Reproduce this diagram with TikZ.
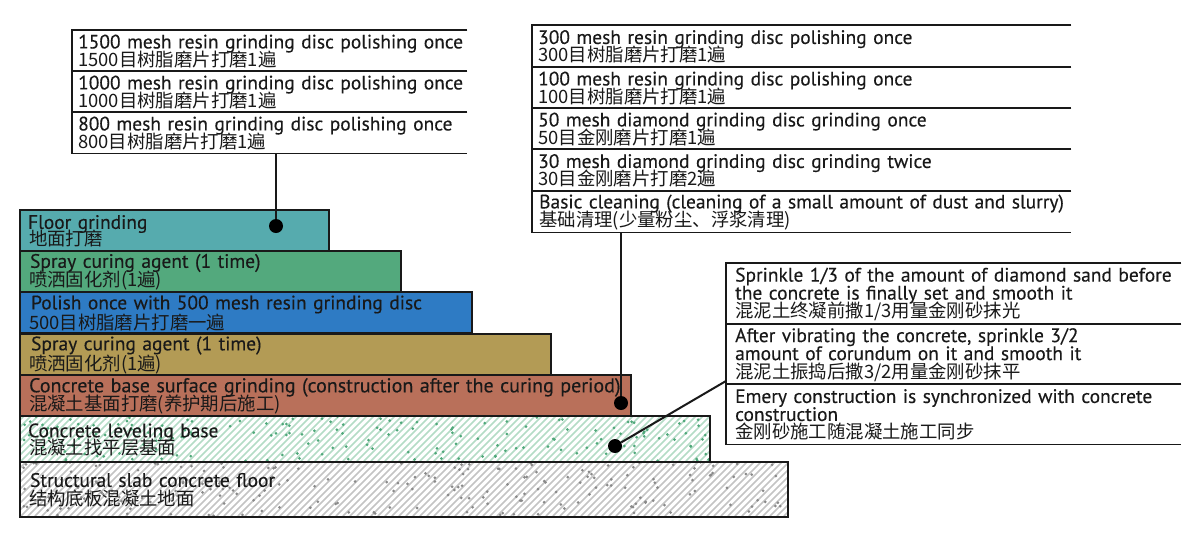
\documentclass[tikz,border=0pt]{standalone}
\usepackage{fontspec}
\setmainfont[FakeBold=0.25,AutoFakeBold=0.25]{PT Sans}
\newfontfamily\cjk{Noto Sans CJK SC}
\newcommand{\zh}[1]{\mbox{\fontsize{18.4}{16}\selectfont\cjk #1}}
\newcommand{\en}[1]{\mbox{#1}}
\newcommand{\wider}{\fontsize{20}{16}\selectfont}
\definecolor{cTeal}{HTML}{56ABAE}
\definecolor{cGreen}{HTML}{53A97D}
\definecolor{cBlue}{HTML}{2E7BC4}
\definecolor{cTan}{HTML}{B39B55}
\definecolor{cBrown}{HTML}{B9705A}
\definecolor{hGreen}{HTML}{B4DCC6}
\definecolor{dGreen}{HTML}{4FA87A}
\definecolor{hGray}{HTML}{C4C4C4}
\definecolor{dGray}{HTML}{8A8A8A}
\tikzset{
  x=1pt,y=-1pt,
  txt/.style={anchor=north west,inner ysep=0pt,align=left,text height=15pt,
    font=\fontsize{19.45}{18}\selectfont,text=black!90,
    execute at begin node={\lineskiplimit=-100pt}},
  row/.style={txt,inner xsep=6pt},
  layer/.style={txt,draw=black!90,line width=2.2pt,inner xsep=9pt},
  opbox/.style={draw=black!90,line width=1.5pt},
  lead/.style={draw=black!90,line width=2pt},
  dot/.style={circle,fill=black,inner sep=0pt,minimum size=14pt}
}
\newcommand{\rowbox}[7][6]{% xsep,name,x,y,w,h,text
  \node[row,inner xsep=#1pt,minimum height=#6,text width=#5-2*#1] (#2) at (#3,#4) {#7};
}
\newcommand{\layerbox}[7]{% name,x,y,w,h,fill,text
  \node[layer,fill=#6,minimum height=#5,text width=#4-18] (#1) at (#2,#3) {#7};
}
\newcommand{\openbox}[1]{\draw[opbox] (#1.north east) -- (#1.north west) -- (#1.south west) -- (#1.south east);}
\begin{document}
\begin{tikzpicture}
\useasboundingbox (0,0) rectangle (1200,550);
\fill[white] (0,0) rectangle (1200,550);
% hatching
\pgfmathsetseed{42}
\begin{scope}
  \clip (19,415) rectangle (709,461);
  \foreach \i in {-10,...,110} \draw[hGreen,line width=1.6pt] ({\i*7},461) -- ++(50,-50);
  \foreach \i in {1,...,170} {
    \pgfmathsetmacro{\px}{19+690*rnd}\pgfmathsetmacro{\py}{415+46*rnd}
    \fill[dGreen] (\px,\py) circle (1.5);
  }
\end{scope}
\begin{scope}
  \clip (19,461) rectangle (787,516);
  \foreach \i in {-10,...,125} \draw[hGray,line width=1.6pt] ({\i*7},516) -- ++(60,-60);
  \foreach \i in {1,...,210} {
    \pgfmathsetmacro{\px}{19+768*rnd}\pgfmathsetmacro{\py}{461+55*rnd}
    \fill[dGray] (\px,\py) circle (1.5);
  }
\end{scope}
% layers
\layerbox{l1}{19}{209}{309}{41}{cTeal}{\kern-1pt\en{Floor grinding}\\\kern-1pt\zh{地面打磨}}
\layerbox{l2}{19}{250}{381}{41}{cGreen}{\kern1pt\en{Spray curing agent (1 time)}\\\kern1pt\zh{喷洒固化剂(1遍)}}
\layerbox{l3}{19}{291}{452}{41}{cBlue}{\kern2pt\en{Polish once with 500 mesh resin grinding disc}\\\kern2pt\zh{500目树脂磨片打磨一遍}}
\layerbox{l4}{19}{333}{531}{41}{cTan}{\kern2pt\en{Spray curing agent (1 time)}\\\kern2pt\zh{喷洒固化剂(1遍)}}
\layerbox{l5}{19}{374}{611}{41}{cBrown}{\en{\wider Concrete base surface grinding (construction after the curing period)}\\\zh{混凝土基面打磨(养护期后施工)}}
\layerbox{l6}{19}{415}{690}{46}{none}{\kern-1pt\en{Concrete leveling base}\\\kern-1pt\zh{混凝土找平层基面}}
\layerbox{l7}{19}{461}{768}{55}{none}{\kern1pt\en{Structural slab concrete floor}\\\kern1pt\zh{结构底板混凝土地面}}
% top-left boxes
\rowbox{a1}{72}{30}{395}{41}{\en{1500 mesh resin grinding disc polishing once}\\\zh{1500目树脂磨片打磨1遍}}
\rowbox{a2}{72}{71}{395}{41}{\en{1000 mesh resin grinding disc polishing once}\\\zh{1000目树脂磨片打磨1遍}}
\rowbox{a3}{72}{112}{395}{41}{\en{800 mesh resin grinding disc polishing once}\\\zh{800目树脂磨片打磨1遍}}
% top-right boxes
\rowbox{b1}{532}{25}{539}{42}{\en{300 mesh resin grinding disc polishing once}\\\zh{300目树脂磨片打磨1遍}}
\rowbox{b2}{532}{67}{539}{41}{\en{100 mesh resin grinding disc polishing once}\\\zh{100目树脂磨片打磨1遍}}
\rowbox{b3}{532}{108}{539}{41}{\en{50 mesh diamond grinding disc grinding once}\\\zh{50目金刚磨片打磨1遍}}
\rowbox{b4}{532}{149}{539}{42}{\en{30 mesh diamond grinding disc grinding twice}\\\zh{30目金刚磨片打磨2遍}}
\rowbox[7]{b5}{532}{191}{539}{41}{\en{Basic cleaning (cleaning of a small amount of dust and slurry)}\\\zh{基础清理(少量粉尘、浮浆清理)}}
% lower-right boxes
\rowbox[9]{c1}{726}{263}{455}{61}{\en{Sprinkle 1/3 of the amount of diamond sand before}\\\en{the concrete is finally set and smooth it}\\\zh{混泥土终凝前撒1/3用量金刚砂抹光}}
\rowbox[9]{c2}{726}{324}{455}{60}{\en{After vibrating the concrete, sprinkle 3/2}\\\en{amount of corundum on it and smooth it}\\\zh{混泥土振捣后撒3/2用量金刚砂抹平}}
\rowbox[9]{c3}{726}{384}{455}{60}{\en{Emery construction is synchronized with concrete}\\\en{construction}\\\zh{金刚砂施工随混凝土施工同步}}
\foreach \n in {a1,a2,a3,b1,b2,b3,b4,b5,c1,c2,c3} {\openbox{\n}}
% dots and leaders
\node[dot] (d1) at (276,226) {};
\node[dot] (d2) at (621,403) {};
\node[dot] (d3) at (615,446) {};
\coordinate (j3) at (726,381);
\draw[lead] (a3.south -| d1) -- (d1);
\draw[lead] (b5.south -| d2) -- (d2);
\draw[lead] (j3) -- (d3);
\end{tikzpicture}
\end{document}
